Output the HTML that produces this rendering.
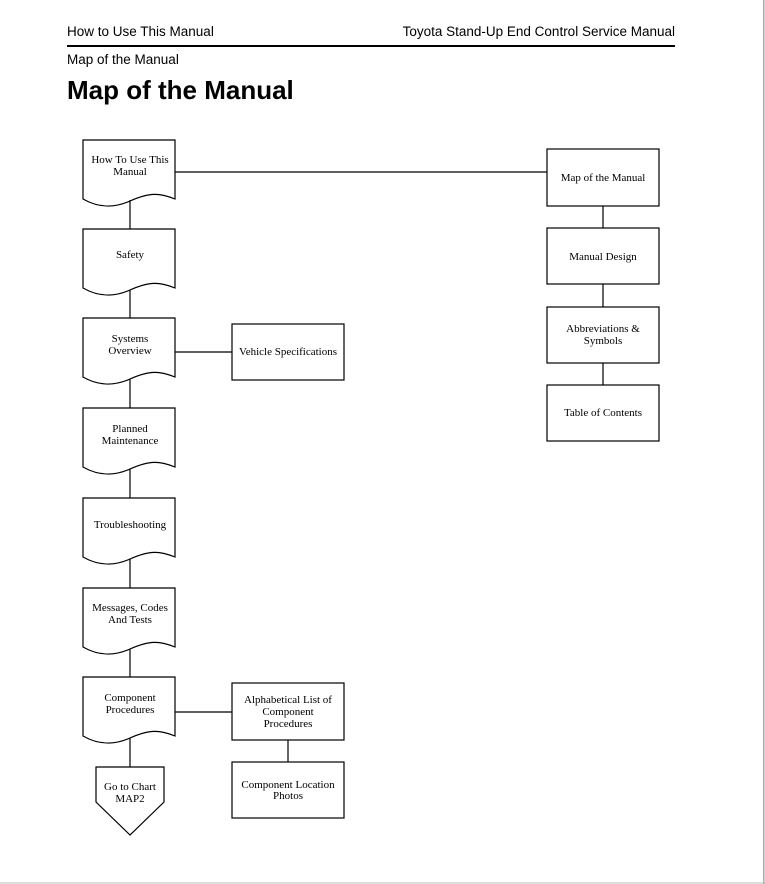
<!DOCTYPE html>
<html><head><meta charset="utf-8"><style>
html,body{margin:0;padding:0;background:#fff;}
svg{display:block;}
.h{font-family:"Liberation Sans",sans-serif;fill:#000;}
.b{font-family:"Liberation Serif",serif;font-size:11px;fill:#000;text-anchor:middle;}
</style></head><body>
<svg width="765" height="884" viewBox="0 0 765 884" xmlns="http://www.w3.org/2000/svg">
<rect x="0" y="0" width="765" height="884" fill="#fff"/>
<rect x="0" y="882" width="765" height="2" fill="#ddd"/>
<rect x="763" y="0" width="1.5" height="884" fill="#aaa"/>
<text class="h" x="67" y="36" font-size="13.5">How to Use This Manual</text>
<text class="h" x="675" y="36" font-size="13.5" text-anchor="end">Toyota Stand-Up End Control Service Manual</text>
<rect x="67" y="45" width="608" height="2" fill="#000"/>
<text class="h" x="67" y="64" font-size="13.5">Map of the Manual</text>
<text class="h" x="67" y="99" font-size="26" font-weight="bold">Map of the Manual</text>

<g fill="none" stroke="#000" stroke-width="1.2">
<line x1="130" y1="200" x2="130" y2="229"/>
<line x1="130" y1="290" x2="130" y2="318"/>
<line x1="130" y1="379" x2="130" y2="408"/>
<line x1="130" y1="469" x2="130" y2="498"/>
<line x1="130" y1="559" x2="130" y2="588"/>
<line x1="130" y1="649" x2="130" y2="677"/>
<line x1="130" y1="738" x2="130" y2="767"/>
<line x1="175" y1="172" x2="547" y2="172"/>
<line x1="175" y1="352" x2="232" y2="352"/>
<line x1="175" y1="712" x2="232" y2="712"/>
<line x1="603" y1="206" x2="603" y2="228"/>
<line x1="603" y1="284" x2="603" y2="307"/>
<line x1="603" y1="363" x2="603" y2="385"/>
<line x1="288" y1="740" x2="288" y2="762"/>
<path d="M83,140 L175,140 L175,199 C160,193 150,192 130,201 C112,209 97,207 83,199 Z"/>
<path d="M83,229 L175,229 L175,288 C160,282 150,281 130,290 C112,298 97,296 83,288 Z"/>
<path d="M83,318 L175,318 L175,377 C160,371 150,370 130,379 C112,387 97,385 83,377 Z"/>
<path d="M83,408 L175,408 L175,467 C160,461 150,460 130,469 C112,477 97,475 83,467 Z"/>
<path d="M83,498 L175,498 L175,557 C160,551 150,550 130,559 C112,567 97,565 83,557 Z"/>
<path d="M83,588 L175,588 L175,647 C160,641 150,640 130,649 C112,657 97,655 83,647 Z"/>
<path d="M83,677 L175,677 L175,736 C160,730 150,729 130,738 C112,746 97,744 83,736 Z"/>
<path d="M96,767 L164,767 L164,802 L130,835 L96,802 Z"/>
<rect x="547" y="149" width="112" height="57"/>
<rect x="547" y="228" width="112" height="56"/>
<rect x="547" y="307" width="112" height="56"/>
<rect x="547" y="385" width="112" height="56"/>
<rect x="232" y="324" width="112" height="56"/>
<rect x="232" y="683" width="112" height="57"/>
<rect x="232" y="762" width="112" height="56"/>
</g>

<text class="b" x="130" y="163">How To Use This</text>
<text class="b" x="130" y="175">Manual</text>
<text class="b" x="130" y="258">Safety</text>
<text class="b" x="130" y="342">Systems</text>
<text class="b" x="130" y="354">Overview</text>
<text class="b" x="130" y="432">Planned</text>
<text class="b" x="130" y="444">Maintenance</text>
<text class="b" x="130" y="528">Troubleshooting</text>
<text class="b" x="130" y="611">Messages, Codes</text>
<text class="b" x="130" y="623">And Tests</text>
<text class="b" x="130" y="701">Component</text>
<text class="b" x="130" y="713">Procedures</text>
<text class="b" x="130" y="790">Go to Chart</text>
<text class="b" x="130" y="802">MAP2</text>
<text class="b" x="603" y="181">Map of the Manual</text>
<text class="b" x="603" y="260">Manual Design</text>
<text class="b" x="603" y="332">Abbreviations &amp;</text>
<text class="b" x="603" y="344">Symbols</text>
<text class="b" x="603" y="416">Table of Contents</text>
<text class="b" x="288" y="355">Vehicle Specifications</text>
<text class="b" x="288" y="703">Alphabetical List of</text>
<text class="b" x="288" y="715">Component</text>
<text class="b" x="288" y="727">Procedures</text>
<text class="b" x="288" y="788">Component Location</text>
<text class="b" x="288" y="799">Photos</text>
</svg>
</body></html>
